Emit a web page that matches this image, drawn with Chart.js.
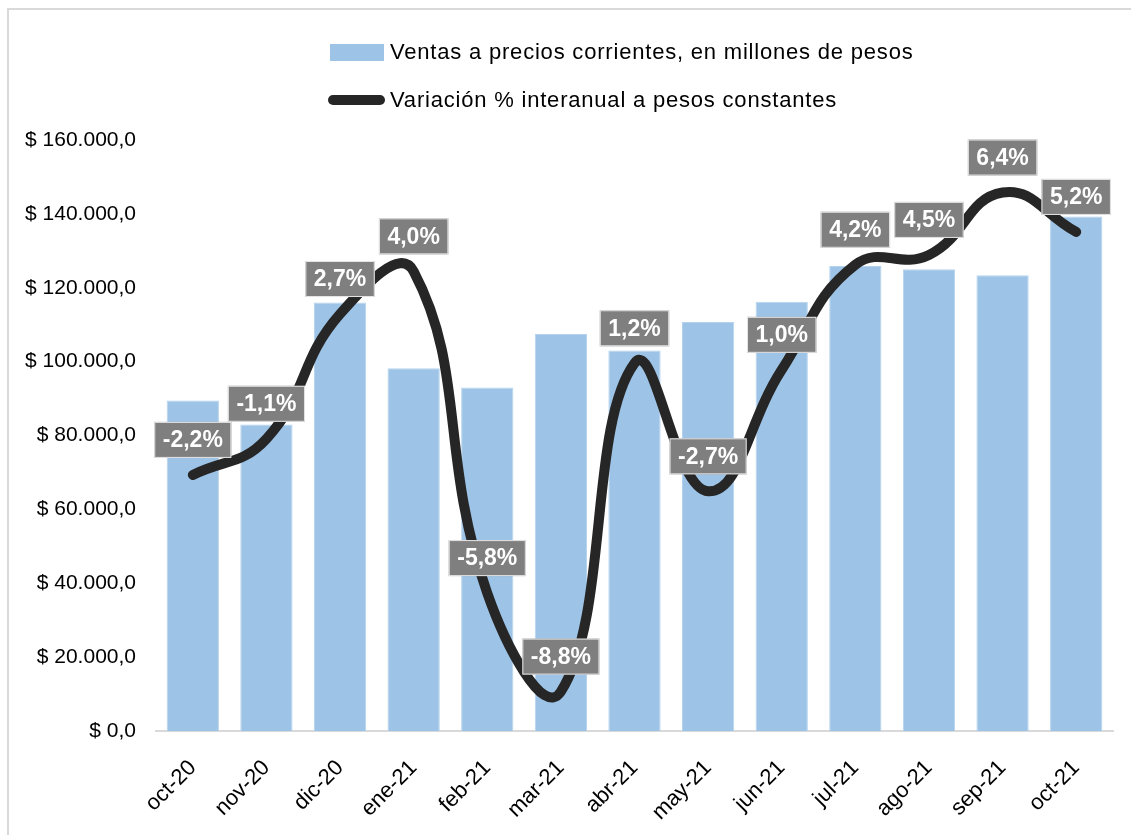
<!DOCTYPE html>
<html>
<head>
<meta charset="utf-8">
<script src="https://cdn.jsdelivr.net/npm/chart.js@4"></script>
<style>
  html, body { margin: 0; padding: 0; background: #fff; }
  #wrap { position: relative; width: 1131px; height: 835px; overflow: hidden; font-family: "Liberation Sans", Arial, sans-serif; }
  #frame { position: absolute; left: 7px; top: 8px; width: 1200px; height: 900px; border-top: 2px solid #d9d9d9; border-left: 2px solid #d9d9d9; box-sizing: border-box; }
  canvas { position: absolute; left: 0; top: 0; }
  .leg { position: absolute; left: 328px; font-size: 22px; letter-spacing: 0.8px; color: #000; white-space: nowrap; display: flex; align-items: center; }
  .sw1 { width: 54px; height: 17px; background: #9DC3E6; margin-left: 2px; margin-right: 6px; }
  .sw2 { width: 57px; height: 10px; background: #262626; border-radius: 5px; margin-right: 5px; }
</style>
</head>
<body>
<div id="wrap">
  <div id="frame"></div>
  <canvas id="c" width="1131" height="835"></canvas>
  <div class="leg" style="top:39px;"><span class="sw1"></span><span id="l1"></span></div>
  <div class="leg" style="top:87px;"><span class="sw2"></span><span id="l2"></span></div>
</div>
<script>
const categories = ["oct-20","nov-20","dic-20","ene-21","feb-21","mar-21","abr-21","may-21","jun-21","jul-21","ago-21","sep-21","oct-21"];
const ventas = [89500, 83000, 116000, 98200, 93000, 107500, 103000, 110700, 116200, 125900, 125000, 123400, 139300];
const variacion = [-2.2, -1.1, 2.7, 4.0, -5.8, -8.8, 1.2, -2.7, 1.0, 4.2, 4.5, 6.4, 5.2];
const seriesNames = ["Ventas a precios corrientes, en millones de pesos", "Variación % interanual a pesos constantes"];
const yTicks = [0, 20000, 40000, 60000, 80000, 100000, 120000, 140000, 160000];

document.getElementById('l1').textContent = seriesNames[0];
document.getElementById('l2').textContent = seriesNames[1];

function fmtMoney(v) {
  const s = Math.round(v).toString().replace(/\B(?=(\d{3})+(?!\d))/g, '.');
  return '$ ' + s + ',0';
}
function fmtPct(v) { return v.toFixed(1).replace('.', ',') + '%'; }

const labelPlugin = {
  id: 'pctLabels',
  afterDatasetsDraw(chart) {
    const meta = chart.getDatasetMeta(0);
    const ctx = chart.ctx;
    ctx.save();
    ctx.font = 'bold 23px "Liberation Sans", Arial, sans-serif';
    ctx.textAlign = 'center';
    ctx.textBaseline = 'middle';
    meta.data.forEach((pt, i) => {
      const txt = fmtPct(variacion[i]);
      const w = ctx.measureText(txt).width + 17;
      const h = 36;
      const cx = pt.x, cy = pt.y - 35;
      ctx.fillStyle = '#7F7F7F';
      ctx.fillRect(cx - w / 2, cy - h / 2, w, h);
      ctx.strokeStyle = '#e6e6e6';
      ctx.lineWidth = 1;
      ctx.strokeRect(cx - w / 2 + 0.5, cy - h / 2 + 0.5, w - 1, h - 1);
      ctx.fillStyle = '#ffffff';
      ctx.fillText(txt, cx, cy + 1);
    });
    ctx.restore();
  }
};

new Chart(document.getElementById('c'), {
  data: {
    labels: categories,
    datasets: [
      {
        type: 'line',
        label: seriesNames[1],
        data: variacion,
        yAxisID: 'y2',
        borderColor: '#262626',
        borderWidth: 10,
        borderCapStyle: 'round',
        borderJoinStyle: 'round',
        tension: 0.45,
        pointRadius: 0,
        fill: false,
        order: 0
      },
      {
        type: 'bar',
        label: seriesNames[0],
        data: ventas,
        yAxisID: 'y',
        backgroundColor: '#9DC3E6',
        borderColor: '#b5d3ee',
        borderWidth: 1,
        categoryPercentage: 1,
        barPercentage: 0.71,
        order: 1
      }
    ]
  },
  options: {
    responsive: false,
    animation: false,
    layout: { padding: { left: 8, right: 18, top: 140, bottom: 0 } },
    plugins: { legend: { display: false }, tooltip: { enabled: false } },
    scales: {
      x: {
        grid: { display: false, drawTicks: false },
        border: { display: true, color: '#d9d9d9', width: 2 },
        ticks: {
          color: '#000',
          font: { family: '"Liberation Sans", Arial, sans-serif', size: 22 },
          minRotation: 45, maxRotation: 45, padding: 24
        },
        afterFit(scale) { scale.height = 104; }
      },
      y: {
        position: 'left',
        min: 0, max: 160000,
        afterBuildTicks(scale) { scale.ticks = yTicks.map(v => ({ value: v })); },
        grid: { display: false, drawTicks: false },
        border: { display: false },
        ticks: {
          color: '#000',
          font: { family: '"Liberation Sans", Arial, sans-serif', size: 21 },
          padding: 20,
          callback: (v) => fmtMoney(v)
        },
        afterFit(scale) { scale.width = 148; }
      },
      y2: {
        position: 'right',
        min: -10, max: 8,
        display: false
      }
    }
  },
  plugins: [labelPlugin]
});
</script>
</body>
</html>
